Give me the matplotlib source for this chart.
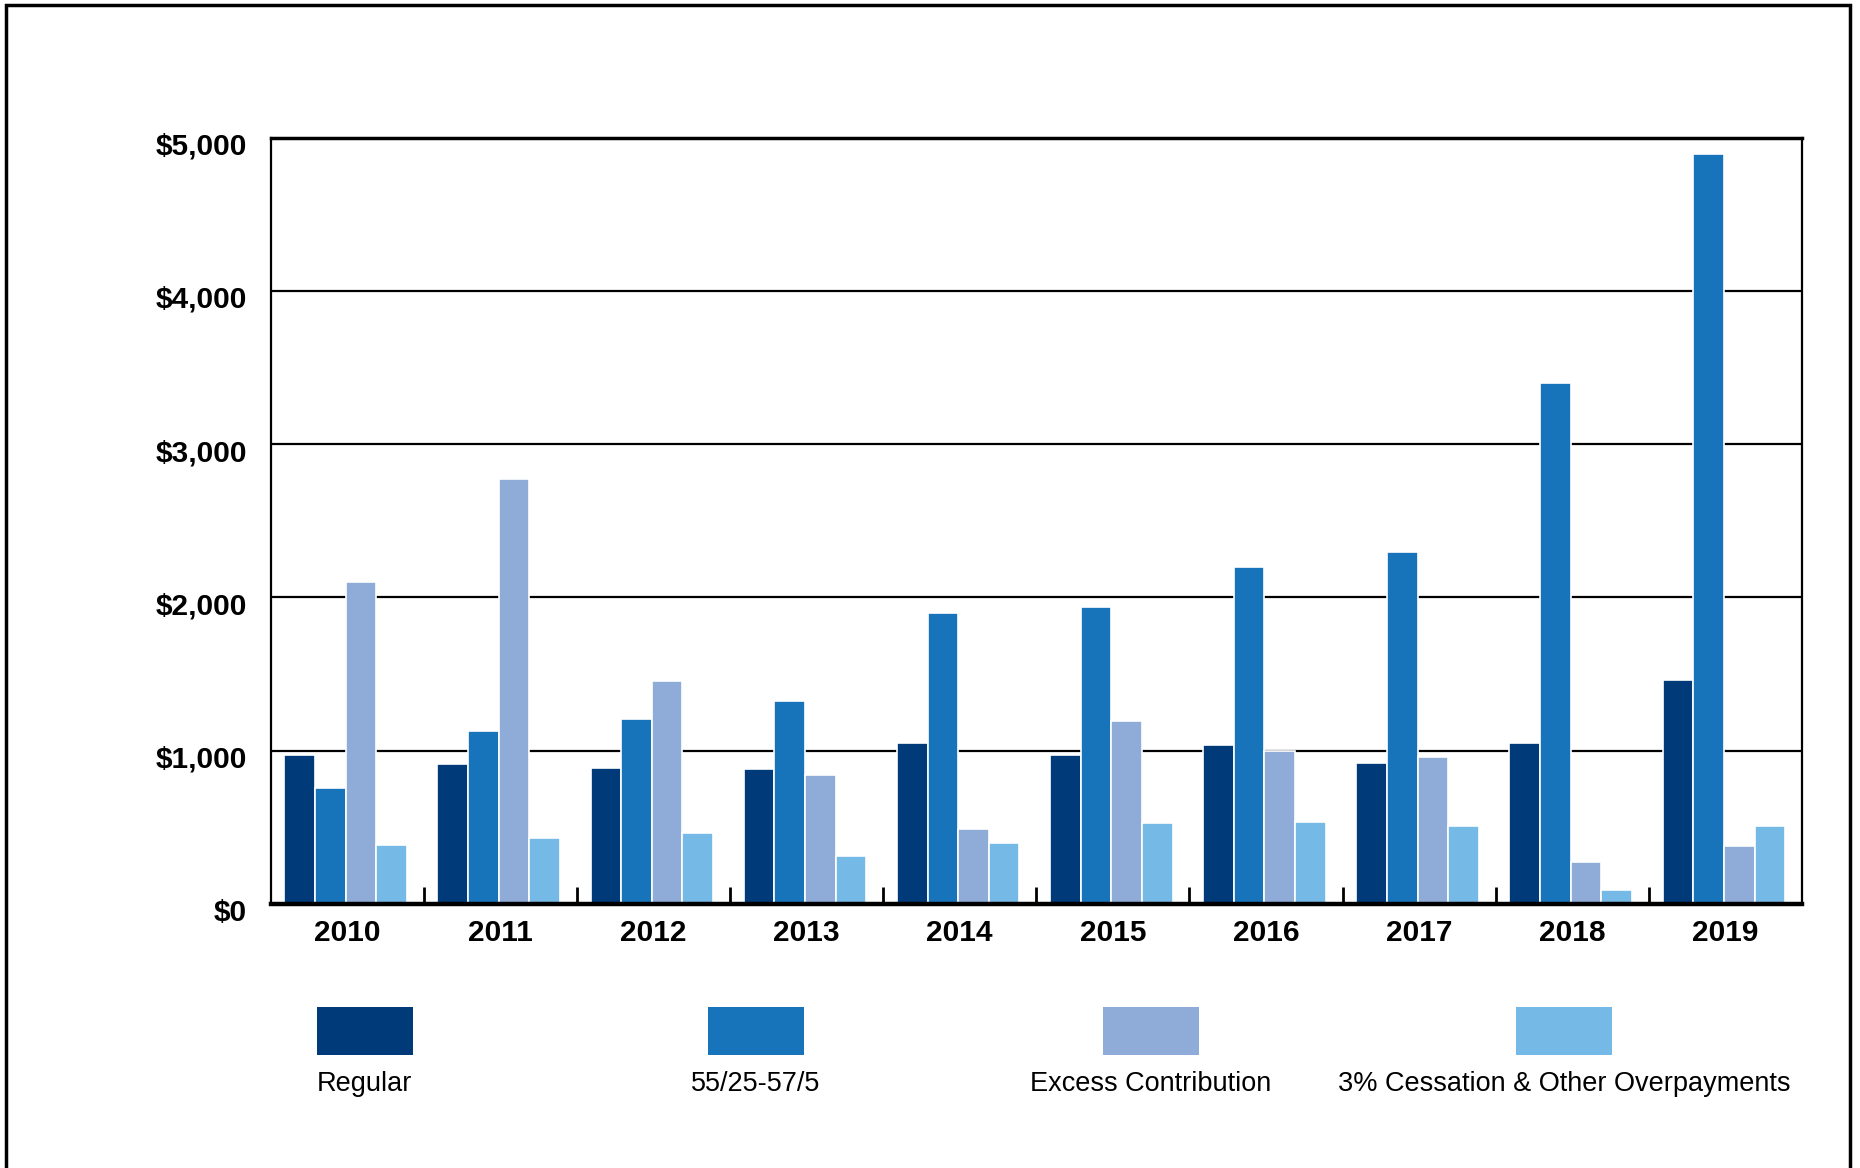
import matplotlib
matplotlib.use("Agg")
import matplotlib.pyplot as plt
import matplotlib.transforms as mtransforms
from matplotlib.patches import Rectangle
import numpy as np

years = ["2010", "2011", "2012", "2013", "2014", "2015", "2016", "2017", "2018", "2019"]
regular = [975, 913, 890, 882, 1053, 975, 1037, 921, 1053, 1463]
s55 = [760, 1130, 1207, 1323, 1896, 1935, 2198, 2299, 3398, 4892]
excess = [2100, 2770, 1455, 844, 488, 1192, 998, 960, 271, 379]
cess = [387, 433, 464, 310, 395, 526, 534, 511, 93, 511]
series_names = ["Regular", "55/25-57/5", "Excess Contribution", "3% Cessation & Other Overpayments"]
colors = ["#003A78", "#1874BA", "#8FACD8", "#75B9E6"]
yticks = [0, 1000, 2000, 3000, 4000, 5000]
ytick_labels = ["$0", "$1,000", "$2,000", "$3,000", "$4,000", "$5,000"]

FONT = ["Liberation Sans Narrow", "Liberation Sans", "DejaVu Sans"]
plt.rcParams["font.family"] = FONT

W, H = 1860, 1168
fig = plt.figure(figsize=(W / 100, H / 100), dpi=100)
ax = fig.add_axes([270.5 / W, 1 - 904 / H, (1802 - 270.5) / W, (904 - 137.6) / H])

x = np.arange(len(years))
bw = 0.2
data = [regular, s55, excess, cess]
for i, (vals, c) in enumerate(zip(data, colors)):
    ax.bar(x + (i - 1.5) * bw - 0.01, vals, width=bw, color=c,
           edgecolor="white", linewidth=1.2, zorder=3)

ax.set_xlim(-0.5, len(years) - 0.5)
ax.set_ylim(0, 5000)
ax.set_yticks(yticks)
ax.set_yticklabels(ytick_labels, fontsize=21.5, fontweight="bold")
ax.tick_params(axis="y", length=0, pad=17)
offset = mtransforms.ScaledTranslation(0, -6 / 100, fig.dpi_scale_trans)
for lab in ax.get_yticklabels():
    lab.set_transform(lab.get_transform() + offset)
ax.set_xticks(x)
ax.set_xticklabels(years, fontsize=21.5, fontweight="bold")
ax.tick_params(axis="x", which="major", length=0, pad=11)
ax.set_xticks(np.arange(0.5, len(years) - 0.5, 1), minor=True)
ax.tick_params(axis="x", which="minor", direction="in", length=12, width=2, color="black")
ax.yaxis.grid(True, color="black", linewidth=1.6, zorder=1)
ax.set_axisbelow(True)
for s in ["left", "right"]:
    ax.spines[s].set_linewidth(1.6)
ax.spines["top"].set_linewidth(2.5)
ax.spines["bottom"].set_linewidth(3.2)
ax.spines["bottom"].set_zorder(5)

# legend (manual, laid out below the plot)
patch_x = [316.7, 708, 1103, 1516]
pw, ph = 96, 48
for px, c, name in zip(patch_x, colors, series_names):
    fig.patches.append(Rectangle((px / W, 1 - 1055 / H), pw / W, ph / H,
                                 transform=fig.transFigure, facecolor=c, edgecolor="none"))
    fig.text((px + pw / 2) / W, 1 - 1084 / H, name, ha="center", va="center", fontsize=19.5)

# outer border
fig.patches.append(Rectangle((6 / W, -0.05), (1850 - 6) / W, 1.05 - 5 / H,
                             transform=fig.transFigure, facecolor="none",
                             edgecolor="black", linewidth=2.5))

fig.savefig("out.png", dpi=100)
